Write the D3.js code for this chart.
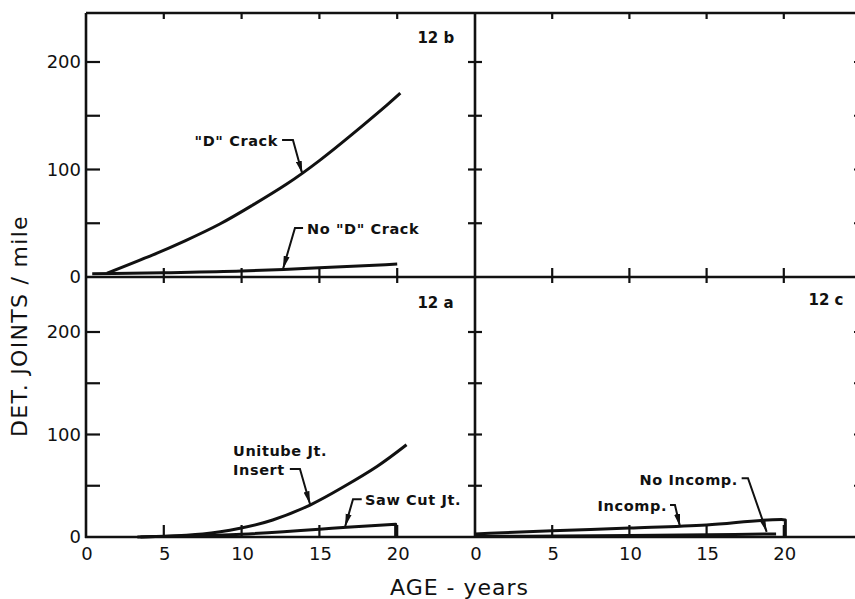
<!DOCTYPE html>
<html>
<head>
<meta charset="utf-8">
<script src="https://cdn.jsdelivr.net/npm/d3@7"></script>
<style>
  html, body { margin: 0; padding: 0; background: #fff; }
  svg { display: block; }
  text { fill: #111; font-family: "DejaVu Sans", sans-serif; }
</style>
</head>
<body>
<svg id="chart" width="855" height="599"></svg>
<script>
// ---- data ----
const ageTicks = [0, 5, 10, 15, 20];
const valueLabels = [0, 100, 200];
const valueTicks = [50, 100, 150, 200];

// 12b: deteriorated joints vs age, by "D" cracking
const dCrack   = [[1.35, 3.5], [4.3, 20.6], [6.4, 33.9], [8.6, 49.3], [10.7, 66.8], [12.9, 86.5], [15, 108.3], [17.1, 132.7], [19.3, 159.5], [20.2, 171]];
const noDCrack = [[0.4, 3], [5, 4], [10, 5.5], [12.7, 7], [15, 8.5], [20, 12]];

// 12a: by joint type
const unitube = [[3.5, 0], [5, 0.8], [7.5, 2.9], [9.9, 8.5], [12, 16.6], [14.4, 31.2], [16.5, 48.5], [18.7, 68.8], [20.6, 90]];
const sawCut  = [[3.3, 0], [5, 0.6], [10, 2.8], [15, 7.5], [16.75, 9.5], [19.9, 12.4]];

// 12c: by incompressibles
const incomp   = [[0, 3], [5, 6], [10, 8.7], [15, 11.7], [19.85, 17], [20.1, 16.5]];
const noIncomp = [[0, 0.5], [10, 1.5], [19.5, 3]];

// ---- layout ----
const svg = d3.select("#chart");
const colX = [[86, 475], [475, 861]];      // x pixel span of 0..25 years for each column
const rowY = [[277, 62], [537, 332]];      // y pixel of 0 and 200 for each row
const topY = 13, midY = 277, botY = 537;

const xL = d3.scaleLinear().domain([0, 25]).range(colX[0]);
const xR = d3.scaleLinear().domain([0, 25]).range(colX[1]);
const yT = d3.scaleLinear().domain([0, 200]).range(rowY[0]);
const yB = d3.scaleLinear().domain([0, 200]).range(rowY[1]);

const panels = [
  { x: xL, y: yT, tag: "12 b", tagAt: [21.3, 218] },
  { x: xR, y: yT, tag: null },
  { x: xL, y: yB, tag: "12 a", tagAt: [21.3, 223] },
  { x: xR, y: yB, tag: "12 c", tagAt: [21.6, 226] }
];

const defs = svg.append("defs");
defs.append("marker")
  .attr("id", "arrow").attr("viewBox", "0 0 13 7")
  .attr("refX", 13).attr("refY", 3.5)
  .attr("markerWidth", 13).attr("markerHeight", 7)
  .attr("markerUnits", "userSpaceOnUse")
  .attr("orient", "auto")
  .append("path").attr("d", "M0,0.5 L13,3.5 L0,6.5 Z").attr("fill", "#111");

const frame = svg.append("g").attr("stroke", "#111").attr("stroke-width", 2.6).attr("fill", "none");

// frame lines: top border, middle and bottom axes, left axis, divider, right border
frame.append("line").attr("x1", xL(0)).attr("x2", 861).attr("y1", topY).attr("y2", topY);
frame.append("line").attr("x1", xL(0)).attr("x2", 861).attr("y1", midY).attr("y2", midY);
frame.append("line").attr("x1", xL(0) - 1).attr("x2", 861).attr("y1", botY).attr("y2", botY);
frame.append("line").attr("x1", xL(0)).attr("x2", xL(0)).attr("y1", topY).attr("y2", botY + 1);
frame.append("line").attr("x1", xR(0)).attr("x2", xR(0)).attr("y1", topY).attr("y2", botY + 1);
frame.append("line").attr("x1", xR(25)).attr("x2", xR(25)).attr("y1", topY).attr("y2", botY);

const ticks = svg.append("g").attr("stroke", "#111").attr("stroke-width", 2.2);

// age ticks on the horizontal lines
[xL, xR].forEach(x => {
  ageTicks.filter(d => d > 0).forEach(a => {
    ticks.append("line").attr("x1", x(a)).attr("x2", x(a)).attr("y1", topY).attr("y2", topY + 6);
    ticks.append("line").attr("x1", x(a)).attr("x2", x(a)).attr("y1", midY - 9).attr("y2", midY + 6);
    ticks.append("line").attr("x1", x(a)).attr("x2", x(a)).attr("y1", botY - 12).attr("y2", botY);
  });
});

// value ticks on the vertical lines
[yT, yB].forEach(y => {
  valueTicks.forEach(v => {
    ticks.append("line").attr("x1", xL(0)).attr("x2", xL(0) + 14).attr("y1", y(v)).attr("y2", y(v));
    ticks.append("line").attr("x1", xR(0) - 7).attr("x2", xR(0) + 7).attr("y1", y(v)).attr("y2", y(v));
    ticks.append("line").attr("x1", xR(25) - 7).attr("x2", xR(25)).attr("y1", y(v)).attr("y2", y(v));
  });
});

// value tick labels (left column only)
[yT, yB].forEach(y => {
  svg.append("g").selectAll("text").data(valueLabels).join("text")
    .attr("x", xL(0) - 5).attr("y", d => y(d))
    .attr("dy", "0.36em").attr("text-anchor", "end")
    .attr("font-size", 18)
    .text(d => d);
});

// age tick labels under both columns
[xL, xR].forEach(x => {
  svg.append("g").selectAll("text").data(ageTicks).join("text")
    .attr("x", d => x(d) + 1).attr("y", botY + 23)
    .attr("text-anchor", "middle").attr("font-size", 18)
    .text(d => d);
});

// axis titles
svg.append("text").attr("x", 390).attr("y", 595)
  .attr("font-size", 22).attr("letter-spacing", 1)
  .text("AGE - years");
svg.append("text")
  .attr("transform", "translate(27,326) rotate(-90)")
  .attr("text-anchor", "middle").attr("font-size", 22).attr("letter-spacing", 1.3)
  .text("DET. JOINTS / mile");

// panel tags
panels.filter(p => p.tag).forEach(p => {
  svg.append("text").attr("x", p.x(p.tagAt[0])).attr("y", p.y(p.tagAt[1]))
    .attr("font-size", 15).attr("font-weight", "bold").text(p.tag);
});

// curves; series with dropTo end in a vertical stroke down to that value
const curves = [
  { panel: 0, data: dCrack, curve: d3.curveNatural },
  { panel: 0, data: noDCrack, curve: d3.curveMonotoneX },
  { panel: 2, data: unitube, curve: d3.curveNatural },
  { panel: 2, data: sawCut, curve: d3.curveMonotoneX, dropTo: 0 },
  { panel: 3, data: incomp, curve: d3.curveMonotoneX, dropTo: 0 },
  { panel: 3, data: noIncomp, curve: d3.curveMonotoneX }
];
curves.forEach(c => {
  const p = panels[c.panel];
  const line = d3.line().x(d => p.x(d[0])).y(d => p.y(d[1])).curve(c.curve);
  let d = line(c.data);
  if (c.dropTo !== undefined) {
    const last = c.data[c.data.length - 1];
    d += "L" + p.x(last[0]) + "," + p.y(c.dropTo);
  }
  svg.append("path").attr("d", d)
    .attr("fill", "none").attr("stroke", "#111")
    .attr("stroke-width", 3).attr("stroke-linejoin", "round");
});

// labels with bent leader arrows, positions in data units of each panel
const notes = [
  { panel: 0, lines: ["\"D\" Crack"], anchor: "end", at: [12.34, 122],
    leader: [[12.6, 127.4], [13.3, 127.4], [13.9, 96]] },
  { panel: 0, lines: ["No \"D\" Crack"], anchor: "start", at: [14.2, 40],
    leader: [[13.95, 45.6], [13.43, 45.6], [12.66, 7.5]] },
  { panel: 2, lines: ["Unitube Jt.", "Insert"], anchor: "start", at: [9.45, 79],
    leader: [[13.1, 66.3], [13.75, 66.3], [14.4, 32]] },
  { panel: 2, lines: ["Saw Cut Jt."], anchor: "start", at: [17.93, 31],
    leader: [[17.72, 36.8], [17.16, 36.8], [16.65, 10]] },
  { panel: 3, lines: ["No Incomp."], anchor: "end", at: [17.03, 50.7],
    leader: [[17.27, 57.3], [17.68, 57.3], [18.89, 5]] },
  { panel: 3, lines: ["Incomp."], anchor: "end", at: [12.44, 25.4],
    leader: [[12.63, 31.2], [12.95, 31.2], [13.28, 10]] }
];
notes.forEach(n => {
  const p = panels[n.panel];
  const t = svg.append("text").attr("x", p.x(n.at[0])).attr("y", p.y(n.at[1]))
    .attr("text-anchor", n.anchor).attr("font-size", 14.5).attr("font-weight", "bold")
    .attr("letter-spacing", 0.6);
  n.lines.forEach((s, i) => {
    t.append("tspan").attr("x", p.x(n.at[0])).attr("dy", i === 0 ? 0 : 18.5).text(s);
  });
  const line = d3.line().x(d => p.x(d[0])).y(d => p.y(d[1]));
  svg.append("path").attr("d", line(n.leader))
    .attr("fill", "none").attr("stroke", "#111").attr("stroke-width", 2)
    .attr("marker-end", "url(#arrow)");
});
</script>
</body>
</html>
